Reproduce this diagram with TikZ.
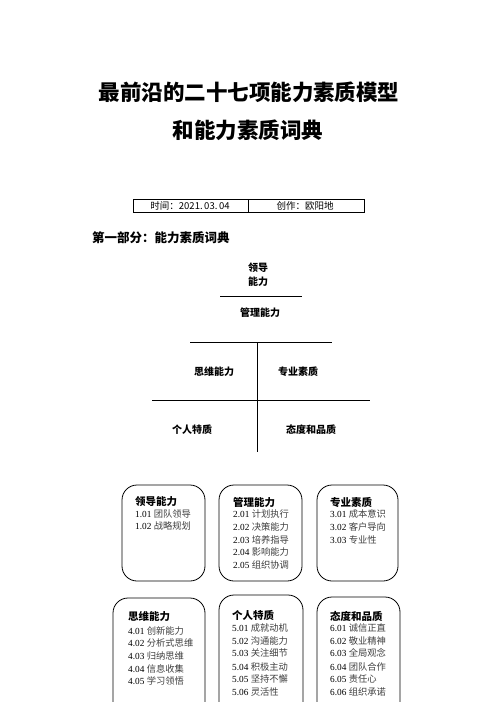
\documentclass[tikz,border=0pt]{standalone}
\usepackage{fontspec}
\setmainfont{Liberation Serif}
\newfontfamily\cjk{Noto Sans CJK SC}
\newcommand\itemline[2]{{\rmfamily #1} {\cjk\color{black!75}#2}}
\begin{document}
\begin{tikzpicture}[x=1pt,y=-1pt,
  title/.style={font=\cjk\bfseries\fontsize{21.5}{24}\selectfont},
  quad/.style={font=\cjk\bfseries\fontsize{10}{12}\selectfont},
  head/.style={anchor=west,inner sep=0pt,font=\cjk\bfseries\fontsize{10.5}{12}\selectfont},
  itm/.style={anchor=west,inner sep=0pt,font=\fontsize{9.3}{11}\selectfont},
  tab/.style={font=\cjk\fontsize{9.5}{11}\selectfont},
  card/.style={draw,line width=0.8pt,rounded corners=15pt}]
\useasboundingbox[fill=white] (0,0) rectangle (496,702);
% titles
\node[title] (t1) at (249,92) {最前沿的二十七项能力素质模型};
\node[title] (t2) at (248,130) {和能力素质词典};
% table
\draw[line width=0.7pt] (133,199) rectangle (364,212);
\draw[line width=0.7pt] (248,199) -- (248,212);
\node[tab] (tl) at (190,205.5) {时间：2021.\,03.\,04};
\node[tab] (tr) at (305,205.5) {创作：欧阳地};
\node[anchor=west,inner sep=0pt,font=\cjk\bfseries\fontsize{12.5}{14}\selectfont] (part) at (92,238) {第一部分：能力素质词典};
% quadrant model
\node[quad] (q0) at (258,268) {领导};
\node[quad] (q0b) at (258,282) {能力};
\draw[line width=0.8pt] (220,296) -- (302,296);
\node[quad] (q1) at (260,313) {管理能力};
\draw[line width=0.8pt] (190,342) -- (332,342);
\draw[line width=0.8pt] (257,342) -- (257,452);
\draw[line width=0.8pt] (152,400) -- (370,400);
\node[quad] (q2) at (214,372) {思维能力};
\node[quad] (q3) at (298,372) {专业素质};
\node[quad] (q4) at (192,430) {个人特质};
\node[quad] (q5) at (311,430) {态度和品质};
% cards row 1
\draw[card] (122,485) rectangle (205,581);
\draw[card] (219,485) rectangle (302,581);
\draw[card] (317,485) rectangle (398,581);
\node[head] (h1) at (135,502) {领导能力};
\node[itm] at (135,514) {\itemline{1.01}{团队领导}};
\node[itm] at (135,526) {\itemline{1.02}{战略规划}};
\node[head] (h2) at (233,502) {管理能力};
\node[itm] at (233,514) {\itemline{2.01}{计划执行}};
\node[itm] at (233,527) {\itemline{2.02}{决策能力}};
\node[itm] at (233,540) {\itemline{2.03}{培养指导}};
\node[itm] at (233,552) {\itemline{2.04}{影响能力}};
\node[itm] at (233,565) {\itemline{2.05}{组织协调}};
\node[head] (h3) at (330,502) {专业素质};
\node[itm] at (330,514) {\itemline{3.01}{成本意识}};
\node[itm] at (330,527) {\itemline{3.02}{客户导向}};
\node[itm] at (330,540) {\itemline{3.03}{专业性}};
% cards row 2 (cut by page bottom)
\draw[card] (113,702) -- (113,598) -- (205,598) -- (205,702);
\draw[card] (219,702) -- (219,595) -- (303,595) -- (303,702);
\draw[card] (317,702) -- (317,597) -- (400,597) -- (400,702);
\node[head] (h4) at (128,617) {思维能力};
\node[itm] at (128,631) {\itemline{4.01}{创新能力}};
\node[itm] at (128,643) {\itemline{4.02}{分析式思维}};
\node[itm] at (128,656) {\itemline{4.03}{归纳思维}};
\node[itm] at (128,669) {\itemline{4.04}{信息收集}};
\node[itm] at (128,681) {\itemline{4.05}{学习领悟}};
\node[head] (h5) at (232,615) {个人特质};
\node[itm] at (232,628) {\itemline{5.01}{成就动机}};
\node[itm] at (232,641) {\itemline{5.02}{沟通能力}};
\node[itm] at (232,653) {\itemline{5.03}{关注细节}};
\node[itm] at (232,667) {\itemline{5.04}{积极主动}};
\node[itm] at (232,679) {\itemline{5.05}{坚持不懈}};
\node[itm] at (232,692) {\itemline{5.06}{灵活性}};
\node[head] (h6) at (330,616) {态度和品质};
\node[itm] at (330,628) {\itemline{6.01}{诚信正直}};
\node[itm] at (330,641) {\itemline{6.02}{敬业精神}};
\node[itm] at (330,653) {\itemline{6.03}{全局观念}};
\node[itm] at (330,667) {\itemline{6.04}{团队合作}};
\node[itm] at (330,679) {\itemline{6.05}{责任心}};
\node[itm] at (330,692) {\itemline{6.06}{组织承诺}};
\end{tikzpicture}
\end{document}
